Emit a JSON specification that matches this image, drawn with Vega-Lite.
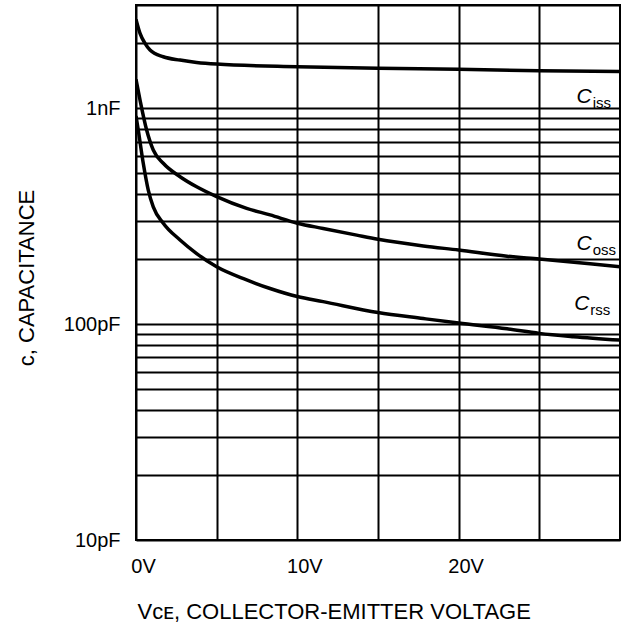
{
  "$schema": "https://vega.github.io/schema/vega-lite/v6.json",
  "width": 484,
  "height": 535,
  "autosize": {"type": "none"},
  "padding": {"left": 136, "top": 5, "right": 1, "bottom": 85},
  "background": "white",
  "config": {
    "view": {"stroke": "black", "strokeWidth": 2},
    "font": "Liberation Sans"
  },
  "datasets": {
    "curves": [
      {"series": "Ciss", "v": 0, "c": 2574},
      {"series": "Ciss", "v": 0.25, "c": 2217},
      {"series": "Ciss", "v": 0.56, "c": 1993},
      {"series": "Ciss", "v": 0.87, "c": 1856},
      {"series": "Ciss", "v": 1.69, "c": 1728},
      {"series": "Ciss", "v": 2.73, "c": 1668},
      {"series": "Ciss", "v": 3.76, "c": 1627},
      {"series": "Ciss", "v": 5, "c": 1598},
      {"series": "Ciss", "v": 10, "c": 1553},
      {"series": "Ciss", "v": 15, "c": 1527},
      {"series": "Ciss", "v": 20, "c": 1512},
      {"series": "Ciss", "v": 25, "c": 1488},
      {"series": "Ciss", "v": 30, "c": 1476},
      {"series": "Coss", "v": 0, "c": 1358},
      {"series": "Coss", "v": 0.25, "c": 1089},
      {"series": "Coss", "v": 0.66, "c": 791},
      {"series": "Coss", "v": 1.07, "c": 639},
      {"series": "Coss", "v": 1.69, "c": 555},
      {"series": "Coss", "v": 2.73, "c": 481},
      {"series": "Coss", "v": 3.76, "c": 432},
      {"series": "Coss", "v": 5, "c": 389},
      {"series": "Coss", "v": 6.86, "c": 343},
      {"series": "Coss", "v": 8.31, "c": 320},
      {"series": "Coss", "v": 10, "c": 293},
      {"series": "Coss", "v": 11.6, "c": 277},
      {"series": "Coss", "v": 13.68, "c": 258},
      {"series": "Coss", "v": 15, "c": 247},
      {"series": "Coss", "v": 17.81, "c": 230},
      {"series": "Coss", "v": 20, "c": 220},
      {"series": "Coss", "v": 23, "c": 206},
      {"series": "Coss", "v": 25, "c": 200},
      {"series": "Coss", "v": 28.14, "c": 190},
      {"series": "Coss", "v": 30, "c": 184},
      {"series": "Crss", "v": 0, "c": 918},
      {"series": "Crss", "v": 0.14, "c": 791},
      {"series": "Crss", "v": 0.45, "c": 555},
      {"series": "Crss", "v": 0.76, "c": 417},
      {"series": "Crss", "v": 1.07, "c": 349},
      {"series": "Crss", "v": 1.69, "c": 293},
      {"series": "Crss", "v": 2.73, "c": 245},
      {"series": "Crss", "v": 3.76, "c": 212},
      {"series": "Crss", "v": 5, "c": 184},
      {"series": "Crss", "v": 6.86, "c": 160},
      {"series": "Crss", "v": 8.31, "c": 146},
      {"series": "Crss", "v": 10, "c": 134},
      {"series": "Crss", "v": 11.6, "c": 127},
      {"series": "Crss", "v": 15, "c": 113},
      {"series": "Crss", "v": 17.81, "c": 106},
      {"series": "Crss", "v": 20, "c": 101},
      {"series": "Crss", "v": 23, "c": 95},
      {"series": "Crss", "v": 25, "c": 90.5},
      {"series": "Crss", "v": 27.11, "c": 87.4},
      {"series": "Crss", "v": 30, "c": 84.3}
    ],
    "labels": [
      {"series": "Ciss", "sub": "iss", "v": 28.25, "c": 1055},
      {"series": "Coss", "sub": "oss", "v": 28.25, "c": 220},
      {"series": "Crss", "sub": "rss", "v": 28.1, "c": 116}
    ]
  },
  "encoding": {
    "x": {
      "field": "v", "type": "quantitative",
      "scale": {"domain": [0, 30], "nice": false},
      "axis": {
        "values": [0, 5, 10, 15, 20, 25, 30],
        "labelExpr": "datum.value % 10 == 0 && datum.value < 30 ? datum.value + 'V' : ''",
        "grid": true, "gridColor": "black", "gridWidth": 2, "gridOpacity": 1,
        "ticks": false, "domain": false,
        "labelFontSize": 20, "labelColor": "black", "labelPadding": 16, "labelOffset": 7,
        "labelFlush": false, "labelOverlap": false, "labelBound": false,
        "title": "Vᴄᴇ, COLLECTOR-EMITTER VOLTAGE",
        "titleFontSize": 22, "titleFontWeight": "normal", "titleColor": "black",
        "titleX": 1, "titleY": 78, "titleAlign": "left", "titleBaseline": "alphabetic"
      }
    },
    "y": {
      "field": "c", "type": "quantitative",
      "scale": {"type": "log", "domain": [10, 3000], "nice": false},
      "axis": {
        "values": [10, 20, 30, 40, 50, 60, 70, 80, 90, 100, 200, 300, 400, 500, 600, 700, 800, 900, 1000, 2000, 3000],
        "labelExpr": "datum.value == 1000 ? '1nF' : (datum.value == 100 || datum.value == 10) ? datum.value + 'pF' : ''",
        "grid": true, "gridColor": "black", "gridWidth": 2, "gridOpacity": 1,
        "ticks": false, "domain": false,
        "labelFontSize": 20, "labelColor": "black", "labelPadding": 16,
        "labelFlush": false, "labelOverlap": false, "labelBound": false,
        "title": "c, CAPACITANCE",
        "titleFontSize": 22, "titleFontWeight": "normal", "titleColor": "black",
        "titleX": -103, "titleY": 272.5, "titleAngle": 270, "titleAlign": "center", "titleBaseline": "alphabetic"
      }
    }
  },
  "layer": [
    {
      "data": {"name": "curves"},
      "mark": {"type": "line", "color": "black", "strokeWidth": 3.5, "interpolate": "monotone", "clip": true},
      "encoding": {
        "detail": {"field": "series"}
      }
    },
    {
      "data": {"name": "labels"},
      "mark": {"type": "text", "fontStyle": "italic", "fontSize": 21, "align": "right", "baseline": "alphabetic", "color": "black"},
      "encoding": {
        "text": {"value": "C"}
      }
    },
    {
      "data": {"name": "labels"},
      "mark": {"type": "text", "fontSize": 15, "align": "left", "baseline": "alphabetic", "dx": 1, "dy": 5, "color": "black"},
      "encoding": {
        "text": {"field": "sub"}
      }
    }
  ]
}
